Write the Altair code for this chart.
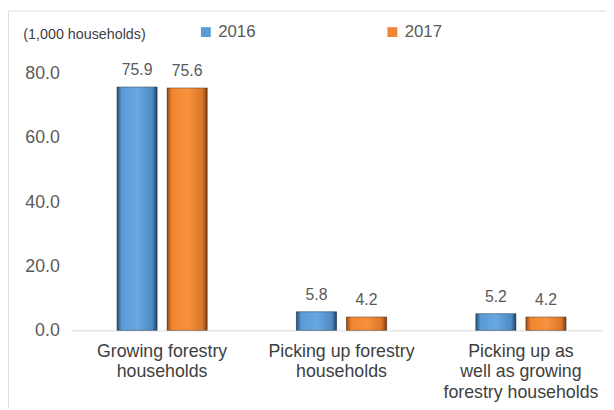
import altair as alt
import pandas as pd

categories = [
    "Growing forestry|households",
    "Picking up forestry|households",
    "Picking up as|well as growing|forestry households",
]
years = ["2016", "2017"]
values_2016 = [75.9, 5.8, 5.2]
values_2017 = [75.6, 4.2, 4.2]
y_ticks = [0, 20, 40, 60, 80]
colors = ["#5B9BD5", "#F08533"]

rows = []
for c, v16, v17 in zip(categories, values_2016, values_2017):
    rows.append({"category": c, "year": "2016", "value": v16})
    rows.append({"category": c, "year": "2017", "value": v17})
df = pd.DataFrame(rows)

FONT = "Liberation Sans, Arial, sans-serif"

grad_blue = {
    "gradient": "linear", "x1": 0, "x2": 1, "y1": 0, "y2": 0,
    "stops": [
        {"offset": 0.0, "color": "#264F78"},
        {"offset": 0.12, "color": "#5B9BD5"},
        {"offset": 0.5, "color": "#68A8E2"},
        {"offset": 0.88, "color": "#4E8AC3"},
        {"offset": 1.0, "color": "#1F4468"},
    ],
}
grad_orange = {
    "gradient": "linear", "x1": 0, "x2": 1, "y1": 0, "y2": 0,
    "stops": [
        {"offset": 0.0, "color": "#9A4A16"},
        {"offset": 0.12, "color": "#F0862F"},
        {"offset": 0.5, "color": "#F8923E"},
        {"offset": 0.88, "color": "#DC772A"},
        {"offset": 1.0, "color": "#7E3C10"},
    ],
}

# The view covers the whole chart (its stroke is the outer frame);
# the plot area is set through explicit scale ranges and axis offsets.
x_enc = alt.X(
    "category:N",
    sort=categories,
    scale=alt.Scale(range=[64, 602], paddingInner=0.497, paddingOuter=0.228, align=0.56),
    axis=alt.Axis(
        title=None,
        offset=-86,
        labelExpr="split(datum.label, '|')",
        labelAngle=0,
        labelFont=FONT,
        labelFontSize=18,
        labelColor="#404040",
        labelLineHeight=21,
        labelPadding=12,
        labelLimit=300,
        domainColor="#D9D9D9",
        domainWidth=1,
        ticks=False,
    ),
)
xoff_enc = alt.XOffset(
    "year:N", scale=alt.Scale(domain=years, paddingInner=0.198, paddingOuter=0)
)
y_enc = alt.Y(
    "value:Q",
    scale=alt.Scale(domain=[0, 80], nice=False, range=[324, 64]),
    axis=alt.Axis(
        values=y_ticks,
        format=".1f",
        offset=-64,
        grid=False,
        domain=False,
        ticks=False,
        labelPadding=12,
        labelFont=FONT,
        labelFontSize=18,
        labelColor="#595959",
        title="(1,000 households)",
        titleAngle=0,
        titleAlign="left",
        titleBaseline="middle",
        titleX=-49,
        titleY=24,
        titleFont=FONT,
        titleFontSize=14.5,
        titleFontWeight="normal",
        titleColor="#404040",
    ),
)

base = alt.Chart(df)

bars = base.mark_bar().encode(
    x=x_enc,
    xOffset=xoff_enc,
    y=y_enc,
    color=alt.Color(
        "year:N",
        scale=alt.Scale(domain=years, range=colors),
        legend=alt.Legend(
            title=None,
            orient="none",
            legendX=192,
            legendY=13,
            direction="horizontal",
            columns=2,
            columnPadding=130,
            symbolType="square",
            symbolSize=100,
            symbolStrokeWidth=0,
            labelFont=FONT,
            labelFontSize=17,
            labelColor="#595959",
            labelOffset=4,
        ),
    ),
)

bars_grad = base.mark_bar(stroke="#1f1f1f", strokeOpacity=0.4, strokeWidth=1).encode(
    x=x_enc,
    xOffset=xoff_enc,
    y=y_enc,
    fill=alt.condition(
        "datum.year == '2016'", alt.value(grad_blue), alt.value(grad_orange)
    ),
)

labels = base.mark_text(
    font=FONT, fontSize=16, color="#595959", baseline="alphabetic", dy=-12
).encode(
    x=x_enc,
    xOffset=xoff_enc,
    y=y_enc,
    text=alt.Text("value:Q", format=".1f"),
)

chart = (
    alt.layer(bars, bars_grad, labels)
    .properties(
        width=620,
        height=410,
        autosize="none",
        padding={"left": 0, "top": 0, "right": -14, "bottom": -10},
    )
    .configure_view(stroke="#7F7F7F", strokeWidth=2, fill="white")
    .configure(background="white")
)

chart.save("out.html", embed_options={"renderer": "svg", "actions": False})
